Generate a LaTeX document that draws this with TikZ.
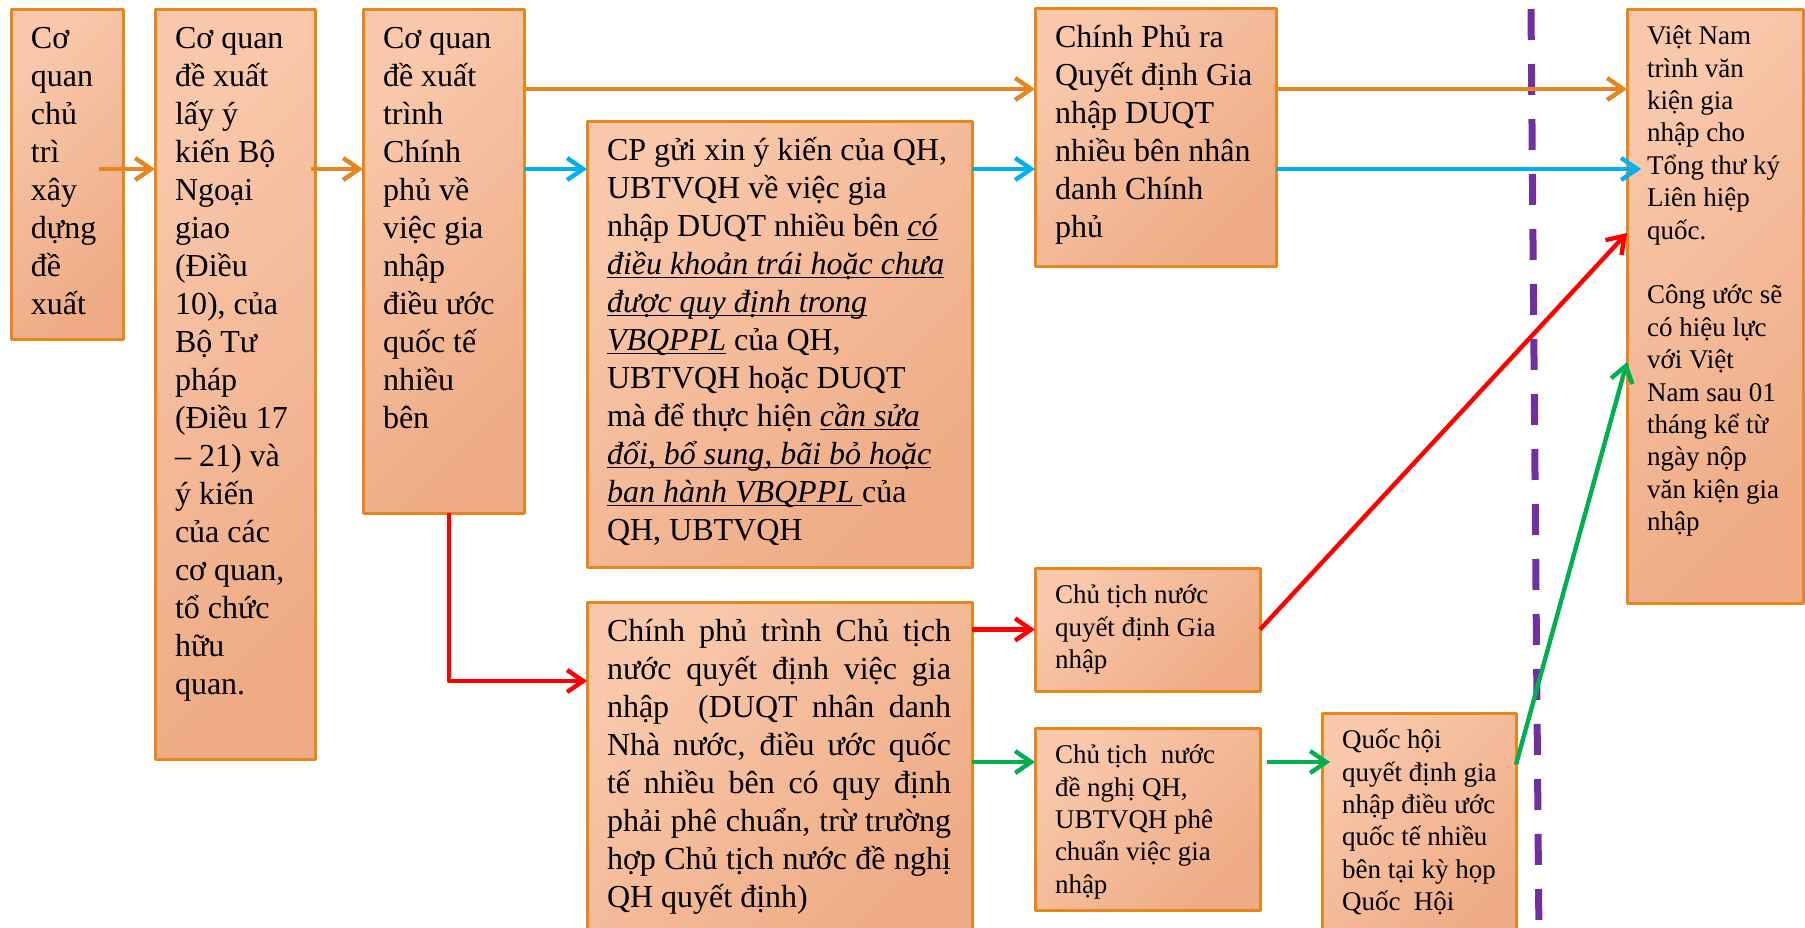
\documentclass[tikz,border=0pt]{standalone}
\usepackage{fontspec}
\setmainfont{Liberation Serif}
\usetikzlibrary{arrows.meta}
\definecolor{orng}{HTML}{E6861C}
\definecolor{peachL}{HTML}{F9C8AB}
\definecolor{peachD}{HTML}{EEAB85}
\definecolor{skyb}{HTML}{00B0F0}
\definecolor{grn}{HTML}{00B050}
\definecolor{redd}{HTML}{FF0000}
\definecolor{purp}{HTML}{7030A0}
\newcommand{\ulit}[1]{\underline{\smash{\textit{#1}}}}
\newcommand{\boxlines}[3]{\parbox[t][#2][t]{#1}{\begin{tabular}[t]{@{}l@{}}#3\end{tabular}}}
\newcommand{\just}[1]{\makebox[172pt][s]{#1}}
\tikzset{
  every picture/.style={line join=round, >={Straight Barb[length=8pt,width=11pt]}},
  stepbox/.style={draw=orng, line width=1.5pt, top color=peachL, bottom color=peachD, shading angle=45,
    anchor=north west, inner xsep=10pt, inner ysep=6.5pt, outer sep=0pt},
  bigbox/.style={stepbox, font=\fontsize{16}{19}\selectfont},
  smallbox/.style={stepbox, font=\fontsize{13.5}{16.2}\selectfont},
  link/.style={->, line width=2.2pt},
}
\begin{document}
\begin{tikzpicture}[x=0.5pt,y=-0.5pt]
\useasboundingbox (0,0) rectangle (1805,927);
\draw[purp, line width=3.5pt, dash pattern=on 15.5pt off 12pt] (1531,9) -- (1539,940);
\node[bigbox] (b1) at (11,9) {\boxlines{36pt}{152pt}{Cơ\\ quan\\ chủ\\ trì\\ xây\\ dựng\\ đề\\ xuất}};
\node[bigbox] (b2) at (155,9) {\boxlines{60pt}{362pt}{Cơ quan\\ đề xuất\\ lấy ý\\ kiến Bộ\\ Ngoại\\ giao\\ (Điều\\ 10), của\\ Bộ Tư\\ pháp\\ (Điều 17\\ – 21) và\\ ý kiến\\ của các\\ cơ quan,\\ tổ chức\\ hữu\\ quan.}};
\node[bigbox] (b3) at (363,9) {\boxlines{60.5pt}{239pt}{Cơ quan\\ đề xuất\\ trình\\ Chính\\ phủ về\\ việc gia\\ nhập\\ điều ước\\ quốc tế\\ nhiều\\ bên}};
\node[bigbox] (cp) at (587,121) {\boxlines{172.5pt}{210pt}{CP gửi xin ý kiến của QH,\\ UBTVQH về việc gia\\ nhập DUQT nhiều bên \ulit{có}\\ \ulit{điều khoản trái hoặc chưa}\\ \ulit{được quy định trong}\\ \ulit{VBQPPL} của QH,\\ UBTVQH hoặc DUQT\\ mà để thực hiện \ulit{cần sửa}\\ \ulit{đổi, bổ sung, bãi bỏ hoặc}\\ \ulit{ban hành VBQPPL\ }của\\ QH, UBTVQH}};
\node[bigbox] (cpra) at (1035,8) {\boxlines{100.5pt}{116pt}{Chính Phủ ra\\ Quyết định Gia\\ nhập DUQT\\ nhiều bên nhân\\ danh Chính\\ phủ}};
\node[smallbox] (vn) at (1627,9) {\boxlines{68pt}{284pt}{Việt Nam\\ trình văn\\ kiện gia\\ nhập cho\\ Tổng thư ký\\ Liên hiệp\\ quốc.\\ \\ Công ước sẽ\\ có hiệu lực\\ với Việt\\ Nam sau 01\\ tháng kể từ\\ ngày nộp\\ văn kiện gia\\ nhập}};
\node[bigbox] (trinh) at (587,602) {\boxlines{172.5pt}{160pt}{\just{Chính phủ trình Chủ tịch}\\ \just{nước quyết định việc gia}\\ \just{nhập\ \ (DUQT nhân danh}\\ \just{Nhà nước, điều ước quốc}\\ \just{tế nhiều bên có quy định}\\ \just{phải phê chuẩn, trừ trường}\\ \just{hợp Chủ tịch nước đề nghị}\\ QH quyết định)}};
\node[smallbox] (ctqd) at (1035,568) {\boxlines{92.5pt}{48.5pt}{Chủ tịch nước\\ quyết định Gia\\ nhập}};
\node[smallbox] (ctdn) at (1035,728) {\boxlines{92.5pt}{78pt}{Chủ tịch\ \ nước\\ đề nghị QH,\\ UBTVQH phê\\ chuẩn việc gia\\ nhập}};
\node[smallbox] (qh) at (1322,713) {\boxlines{77pt}{104pt}{Quốc hội\\ quyết định gia\\ nhập điều ước\\ quốc tế nhiều\\ bên tại kỳ họp\\ Quốc\ \ Hội}};
\coordinate (rowO) at (0,89);
\coordinate (rowB) at (0,169);
\coordinate (rowT) at (0,681);
\coordinate (rowG) at (0,762);
\draw[link,orng] ([xshift=-12pt]b1.east |- rowB) -- (b2.west |- rowB);
\draw[link,orng] ([xshift=-2pt]b2.east |- rowB) -- (b3.west |- rowB);
\draw[link,orng] (b3.east |- rowO) -- (cpra.west |- rowO);
\draw[link,skyb] (b3.east |- rowB) -- (cp.west |- rowB);
\draw[link,skyb] (cp.east |- rowB) -- (cpra.west |- rowB);
\draw[link,orng] (cpra.east |- rowO) -- (vn.west |- rowO);
\draw[link,skyb] (cpra.east |- rowB) -- ([xshift=7pt]vn.west |- rowB);
\draw[link,redd] ([xshift=2.75pt]b3.south) |- (trinh.west |- rowT);
\draw[link,redd] (trinh.east |- ctqd.west) -- (ctqd.west);
\draw[link,grn] (trinh.east |- rowG) -- (ctdn.west |- rowG);
\draw[link,grn] ([xshift=3.5pt]ctdn.east |- rowG) -- ([xshift=4pt]qh.west |- rowG);
\draw[link,redd] (ctqd.east) -- ([yshift=36.5pt]vn.west);
\draw[link,grn] ([yshift=32.75pt]qh.east) -- ([yshift=-28pt]vn.west);
\end{tikzpicture}
\end{document}
